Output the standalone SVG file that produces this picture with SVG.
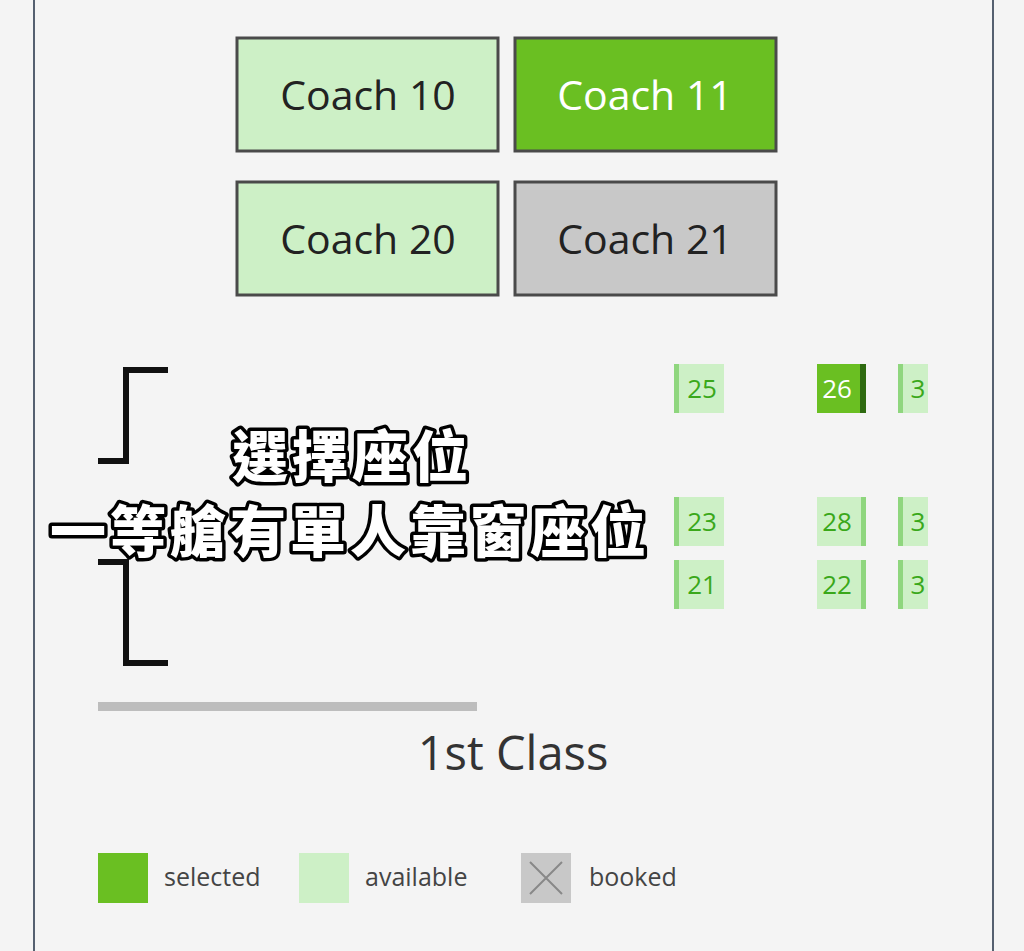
<svg xmlns="http://www.w3.org/2000/svg" width="1024" height="951" viewBox="0 0 1024 951">
<style>
.coach rect{stroke:#4a4a4a;stroke-width:3}
.coach text{font-family:"Open Sans","Noto Sans",sans-serif;font-size:41px;text-anchor:middle}
.seat text{font-family:"Open Sans","Noto Sans",sans-serif;font-size:26px;fill:#3aa81a;text-anchor:middle}
.lg{font-family:"Open Sans","Noto Sans",sans-serif;font-size:25px;fill:#444}
.cap{font-family:"Noto Sans CJK TC",sans-serif;font-weight:900;font-size:56px;letter-spacing:4px;fill:#fff;stroke:#000;stroke-width:7;paint-order:stroke;stroke-linejoin:round;text-anchor:middle}
</style>
<rect width="1024" height="951" fill="#f4f4f4"/>
<line x1="34" y1="0" x2="34" y2="951" stroke="#556070" stroke-width="2"/>
<line x1="993" y1="0" x2="993" y2="951" stroke="#556070" stroke-width="2"/>
<g id="coach10" class="coach"><rect x="237" y="38" width="261" height="113" fill="#cdf0c6"/><text x="368" y="110" fill="#222">Coach 10</text></g>
<g id="coach11" class="coach"><rect x="515" y="38" width="261" height="113" fill="#6abf22"/><text x="645" y="110" fill="#fff">Coach 11</text></g>
<g id="coach20" class="coach"><rect x="237" y="182" width="261" height="113" fill="#cdf0c6"/><text x="368" y="254" fill="#222">Coach 20</text></g>
<g id="coach21" class="coach"><rect x="515" y="182" width="261" height="113" fill="#c8c8c8"/><text x="645" y="254" fill="#222">Coach 21</text></g>
<g id="brackets" fill="#111">
<rect x="123" y="367" width="45" height="6"/><rect x="123" y="367" width="6" height="97"/><rect x="98" y="458" width="31" height="6"/>
<rect x="98" y="559" width="31" height="6"/><rect x="123" y="559" width="6" height="107"/><rect x="123" y="660" width="45" height="6"/>
</g>
<g id="seat25" class="seat"><rect x="674" y="364" width="50" height="49" fill="#cdf0c6"/><rect x="674" y="364" width="5" height="49" fill="#8fd67e"/><text x="702" y="398">25</text></g>
<g id="seat26" class="seat"><rect x="817" y="364" width="49" height="49" fill="#6abf22"/><rect x="860" y="364" width="6" height="49" fill="#2e6a10"/><text x="837" y="398" style="fill:#fff">26</text></g>
<g id="seat3a" class="seat"><rect x="898" y="364" width="30" height="49" fill="#cdf0c6"/><rect x="898" y="364" width="5" height="49" fill="#8fd67e"/><text x="918" y="398">3</text></g>
<g id="seat23" class="seat"><rect x="674" y="497" width="50" height="49" fill="#cdf0c6"/><rect x="674" y="497" width="5" height="49" fill="#8fd67e"/><text x="702" y="531">23</text></g>
<g id="seat28" class="seat"><rect x="817" y="497" width="49" height="49" fill="#cdf0c6"/><rect x="861" y="497" width="5" height="49" fill="#8fd67e"/><text x="837" y="531">28</text></g>
<g id="seat3b" class="seat"><rect x="898" y="497" width="30" height="49" fill="#cdf0c6"/><rect x="898" y="497" width="5" height="49" fill="#8fd67e"/><text x="918" y="531">3</text></g>
<g id="seat21" class="seat"><rect x="674" y="560" width="50" height="49" fill="#cdf0c6"/><rect x="674" y="560" width="5" height="49" fill="#8fd67e"/><text x="702" y="594">21</text></g>
<g id="seat22" class="seat"><rect x="817" y="560" width="49" height="49" fill="#cdf0c6"/><rect x="861" y="560" width="5" height="49" fill="#8fd67e"/><text x="837" y="594">22</text></g>
<g id="seat3c" class="seat"><rect x="898" y="560" width="30" height="49" fill="#cdf0c6"/><rect x="898" y="560" width="5" height="49" fill="#8fd67e"/><text x="918" y="594">3</text></g>
<rect x="98" y="702" width="379" height="9" fill="#bdbdbd"/>
<text x="513" y="770" font-family="Open Sans, Noto Sans, sans-serif" font-size="47" fill="#333" text-anchor="middle">1st Class</text>
<g id="legend">
<rect x="98" y="853" width="50" height="50" fill="#6abf22"/><text class="lg" x="164" y="886">selected</text>
<rect x="299" y="853" width="50" height="50" fill="#cdf0c6"/><text class="lg" x="365" y="886">available</text>
<rect x="521" y="853" width="50" height="50" fill="#c8c8c8"/><path d="M530 862L562 894M562 862L530 894" stroke="#888" stroke-width="2"/><text class="lg" x="589" y="886">booked</text>
</g>
<text class="cap" x="352" y="477">選擇座位</text>
<text class="cap" x="350" y="552">一等艙有單人靠窗座位</text>
</svg>
